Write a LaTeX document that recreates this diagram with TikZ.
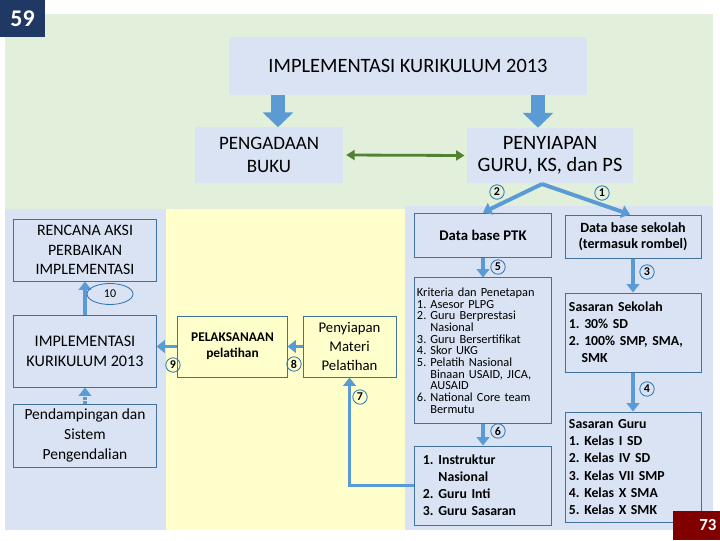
\documentclass[tikz,border=0pt]{standalone}
\usepackage{fontspec}
\setmainfont{Carlito}
\usetikzlibrary{arrows.meta,shapes.geometric}
\definecolor{bggreen}{RGB}{226,239,218}
\definecolor{panelblue}{RGB}{218,227,243}
\definecolor{paleyellow}{RGB}{255,255,204}
\definecolor{boxline}{RGB}{65,113,156}
\definecolor{arrowblue}{RGB}{91,155,213}
\definecolor{circline}{RGB}{46,117,182}
\definecolor{darkgreen}{RGB}{84,130,53}
\definecolor{navy}{RGB}{31,56,100}
\definecolor{darkred}{RGB}{128,0,0}
\tikzset{
  topbox/.style={fill=panelblue, inner sep=0pt, align=center},
  panelbox/.style={draw=boxline, fill=panelblue, line width=0.7pt, inner sep=0pt, align=center},
  ylwbox/.style={panelbox, fill=paleyellow},
  flowarr/.style={draw=arrowblue, line width=2.8pt, -{Triangle[length=6pt,width=9pt]}},
  blockarr/.style={draw=arrowblue, line width=10.5pt, -{Triangle[length=10.5pt,width=21pt]}},
  greenarr/.style={draw=darkgreen, line width=2pt, {Triangle[length=6pt,width=7pt]}-{Triangle[length=6pt,width=7pt]}},
  numcirc/.style={circle, draw=circline, line width=0.6pt, inner sep=0pt, minimum size=0.36cm, font=\fontsize{8.5}{9}\selectfont\bfseries}
}
\begin{document}
\frenchspacing
\begin{tikzpicture}[x=0.025cm,y=-0.025cm]
  % page and panels
  \useasboundingbox (0,0) rectangle (720,540);
  \fill[bggreen] (5,14) rectangle (713,530);
  \fill[panelblue] (5,209) rectangle (166,530);
  \fill[paleyellow] (166,209) rectangle (405,530);
  \fill[panelblue] (405,206) rectangle (713,530);
  % top boxes
  \node[topbox, minimum width=8.95cm, minimum height=1.45cm, font=\fontsize{14.5}{16}\selectfont] (title) at (408,66) {IMPLEMENTASI KURIKULUM 2013};
  \node[topbox, minimum width=3.7cm, minimum height=1.375cm, font=\fontsize{13.5}{16}\selectfont] (pengadaan) at (269,155) {PENGADAAN\\BUKU};
  \node[topbox, minimum width=4.15cm, minimum height=1.375cm, font=\fontsize{14.5}{16}\selectfont] (penyiapan) at (550,155.5) {PENYIAPAN\\GURU, KS, dan PS};
  % left column
  \node[panelbox, minimum width=3.55cm, minimum height=1.55cm, font=\fontsize{11.3}{14}\selectfont] (rencana) at (85,250) {RENCANA AKSI\\PERBAIKAN\\IMPLEMENTASI};
  \node[panelbox, minimum width=3.55cm, minimum height=1.8cm, font=\fontsize{11.5}{14}\selectfont] (implem) at (85,351) {IMPLEMENTASI\\KURIKULUM 2013};
  \node[panelbox, minimum width=3.55cm, minimum height=1.575cm, font=\fontsize{11}{14}\selectfont] (pendamp) at (85,435.5) {Pendampingan dan\\Sistem\\Pengendalian};
  % training
  \node[ylwbox, minimum width=2.725cm, minimum height=1.525cm, font=\fontsize{9.5}{11.5}\selectfont\bfseries] (pelaks) at (232.5,346.5) {PELAKSANAAN\\pelatihan};
  \node[ylwbox, minimum width=2.325cm, minimum height=1.525cm, font=\fontsize{10.5}{13.5}\selectfont] (materi) at (349.5,346.5) {Penyiapan\\Materi\\Pelatihan};
  % teacher column
  \node[panelbox, minimum width=3.4cm, minimum height=1.1cm, font=\fontsize{10.5}{12}\selectfont\bfseries] (ptk) at (483,235) {Data base PTK};
  \node[panelbox, minimum width=3.4cm, minimum height=3.625cm, text width=3.3cm, align=left, font=\fontsize{8.8}{8.3}\selectfont] (kriteria) at (483,350.5)
    {Kriteria dan Penetapan\\
     \makebox[9.5pt][l]{1.}Asesor PLPG\\
     \makebox[9.5pt][l]{2.}Guru Berprestasi\\
     \hspace*{9.5pt}Nasional\\
     \makebox[9.5pt][l]{3.}Guru Bersertifikat\\
     \makebox[9.5pt][l]{4.}Skor UKG\\
     \makebox[9.5pt][l]{5.}Pelatih Nasional\\
     \hspace*{9.5pt}Binaan USAID, JICA,\\
     \hspace*{9.5pt}AUSAID\\
     \makebox[9.5pt][l]{6.}National Core team\\
     \hspace*{9.5pt}Bermutu};
  \node[panelbox, minimum width=3.4cm, minimum height=1.975cm, text width=3.0cm, align=left, font=\fontsize{9.8}{12}\selectfont\bfseries] (instruk) at (483,485.5)
    {\makebox[11pt][l]{1.}Instruktur\\
     \hspace*{11pt}Nasional\\
     \makebox[11pt][l]{2.}Guru Inti\\
     \makebox[11pt][l]{3.}Guru Sasaran};
  % school column
  \node[panelbox, minimum width=3.4cm, minimum height=1.075cm, font=\fontsize{10}{11.5}\selectfont\bfseries] (sekolah) at (633,236.5) {Data base sekolah\\(termasuk rombel)};
  \node[panelbox, minimum width=3.4cm, minimum height=1.975cm, text width=3.2cm, align=left, font=\fontsize{9.8}{12}\selectfont\bfseries] (sassek) at (633,332.5)
    {Sasaran Sekolah\\1. 30\% SD\\2. 100\% SMP, SMA,\\\hspace*{9pt}SMK};
  \node[panelbox, minimum width=3.4cm, minimum height=2.75cm, text width=3.2cm, align=left, font=\fontsize{9.8}{12.2}\selectfont\bfseries] (sasguru) at (633,467)
    {Sasaran Guru\\1. Kelas I SD\\2. Kelas IV SD\\3. Kelas VII SMP\\4. Kelas X SMA\\5. Kelas X SMK};
  % connectors
  \draw[blockarr] (title.south -| 278,0) -- (278,0 |- pengadaan.north);
  \draw[blockarr] (title.south -| 538,0) -- (538,0 |- penyiapan.north);
  \draw[greenarr] ([xshift=2pt]pengadaan.east) -- ([xshift=-1.5pt]penyiapan.west);
  \coordinate (split) at (542,184);
  \draw[flowarr] (split) -- (ptk.north);
  \draw[flowarr] (split) -- ([xshift=-0.075cm]sekolah.north);
  \draw[flowarr] (ptk.south) -- (kriteria.north);
  \draw[flowarr] (kriteria.south) -- (instruk.north);
  \draw[flowarr] (sekolah.south) -- (sassek.north);
  \draw[flowarr] (sassek.south) -- (sasguru.north);
  \draw[flowarr] (instruk.west) -| (materi.south);
  \draw[flowarr] (materi.west) -- (pelaks.east);
  \draw[flowarr] (pelaks.west) -- (pelaks.west -| implem.east);
  \draw[flowarr] (implem.north) -- (rencana.south);
  \draw[flowarr, dash pattern=on 1.6pt off 1.1pt] (pendamp.north) -- (implem.south);
  % step numbers
  \node[numcirc] (n1) at (602,193) {1};
  \node[numcirc] (n2) at (497,192) {2};
  \node[numcirc] (n3) at (647,272) {3};
  \node[numcirc] (n4) at (647,389) {4};
  \node[numcirc] (n5) at (498,267) {5};
  \node[numcirc] (n6) at (498,431) {6};
  \node[numcirc] (n7) at (360,397) {7};
  \node[numcirc] (n8) at (294,364) {8};
  \node[numcirc] (n9) at (173,365) {9};
  \node[ellipse, draw=circline, line width=0.6pt, inner sep=0pt, minimum width=1.15cm, minimum height=0.525cm,
        font=\fontsize{8.5}{9}\selectfont] (n10) at (110,294) {10};
  % page numbers
  \node[fill=navy, text=white, minimum width=1.125cm, minimum height=0.925cm, inner sep=0pt,
        font=\fontsize{17}{18}\selectfont\bfseries] (pgtop) at (22.5,18.5) {59};
  \node[fill=darkred, text=white, minimum width=1.175cm, minimum height=0.725cm, inner sep=0pt, text width=1.0cm, align=right,
        font=\fontsize{12}{13}\selectfont\bfseries] (pgbot) at (696.5,525.5) {73};
\end{tikzpicture}
\end{document}
